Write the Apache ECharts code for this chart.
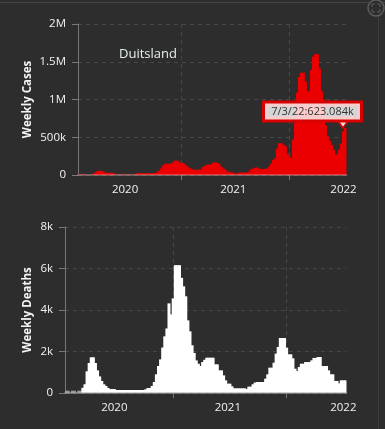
<!DOCTYPE html>
<html>
<head>
<meta charset="utf-8">
<style>html,body{margin:0;padding:0;background:#2d2d2d}#c{width:385px;height:429px}</style>
<script src="https://cdn.jsdelivr.net/npm/echarts@6/dist/echarts.min.js"></script>
</head>
<body>
<div id="c"></div>
<script>
const weeklyCases = [
14000,14000,14000,14000,null,null,14000,14000,30000,50000,
55000,55000,45000,35000,28000,28000,28000,28000,14000,14000,
14000,14000,14000,14000,14000,14000,14000,8000,8000,22000,
22000,22000,22000,22000,22000,22000,22000,22000,28000,35000,
55000,85000,125000,145000,150000,150000,150000,165000,190000,190000,
170000,160000,160000,135000,115000,95000,80000,70000,70000,70000,
70000,70000,106000,120000,137000,137000,137000,163000,163000,163000,
140000,106000,85000,70000,44000,44000,31000,31000,18000,18000,
31000,31000,31000,31000,31000,44000,75000,85000,97000,97000,
84000,75000,75000,84000,84000,110000,150000,200000,220000,350000,
420000,420000,400000,380000,283000,240000,216000,470000,690000,1090000,
1300000,1354000,1354000,1240000,1110000,1110000,1390000,1566000,1600000,1600000,
1410000,1110000,1000000,660000,511000,455000,400000,335000,270000,270000,
335000,415000,580000,623084
];
const weeklyDeaths = [
110,110,null,110,110,null,110,110,250,420,
1045,1445,1720,1720,1445,1090,800,580,420,340,
240,190,190,190,145,145,145,145,145,145,
145,145,145,145,145,145,145,145,180,240,
240,340,530,900,1300,1620,2190,2730,3110,4320,
3790,4560,6160,6160,6160,5550,5140,4660,3500,2970,
2300,1930,1570,1410,1300,1490,1600,1700,1700,1700,
1700,1380,1380,1090,1090,850,610,450,450,320,
225,225,225,225,225,225,190,305,305,420,
500,530,530,530,530,690,900,1220,1220,1460,
1900,2220,2650,2650,2650,2185,1864,1864,1670,1170,
1060,1250,1410,1410,1490,1490,1490,1575,1690,1690,
1735,1735,1300,1300,1300,1090,900,900,580,580,
465,610,610,610
];
const weekNumbers = weeklyCases.map((_, i) => 'w' + i);
const yearLabelWeeks = [23, 77, 132];
const yearLabels = ['2020', '2021', '2022'];
const yearLineWeeks = [51, 105];
const caseTickValues = [0, 500000, 1000000, 1500000, 2000000];
const caseTickLabels = ['0', '500k', '1M', '1.5M', '2M'];
const deathTickValues = [0, 2000, 4000, 6000, 8000];
const deathTickLabels = ['0', '2k', '4k', '6k', '8k'];
const titleText = 'Duitsland';
const tipText = '7/3/22:623.084k';

const font = '"Open Sans","Noto Sans",sans-serif';
function xAxes(g, lineColor) {
  return [{
    type: 'category', gridIndex: g, data: weekNumbers, boundaryGap: true, position: 'bottom',
    axisLine: { show: false },
    axisTick: { show: true, length: 5, alignWithLabel: true, interval: (i) => yearLineWeeks.includes(i), lineStyle: { color: '#777' } },
    axisLabel: {
      show: true, color: '#f2f2f2', fontFamily: font, fontSize: 11.5, margin: 9,
      interval: (i) => yearLabelWeeks.includes(i),
      formatter: (v) => yearLabels[yearLabelWeeks.indexOf(weekNumbers.indexOf(v))]
    },
    splitLine: { show: true, alignWithLabel: true, interval: (i) => yearLineWeeks.includes(i), lineStyle: { color: '#474747', type: [4, 4], width: 1 } }
  }, {
    type: 'category', gridIndex: g, data: weekNumbers, z: 6, position: 'bottom',
    axisLine: { show: true, onZero: false, lineStyle: { color: lineColor, width: 1.5 } },
    axisTick: { show: false }, axisLabel: { show: false }, splitLine: { show: false }
  }];
}
function yAxis(g, name, maxV, step, vals, labs, gap) {
  return {
    type: 'value', gridIndex: g, min: 0, max: maxV, interval: step,
    name: name, nameLocation: 'middle', nameGap: gap, nameMoveOverlap: false,
    nameTextStyle: { color: '#f4f4f4', fontFamily: font, fontSize: 11.5, fontWeight: 'bold' },
    axisLine: { show: true, lineStyle: { color: '#777' } },
    axisTick: { show: true, length: 6, lineStyle: { color: '#777' } },
    axisLabel: { color: '#f2f2f2', fontFamily: font, fontSize: 11.5, margin: 12, formatter: (v) => labs[vals.indexOf(v)] },
    splitLine: { show: true, lineStyle: { color: '#474747', type: [4, 4], width: 1 } }
  };
}
const lastName = weekNumbers[weekNumbers.length - 1];
const lastValue = weeklyCases[weeklyCases.length - 1];

const chart = echarts.init(document.getElementById('c'), null, { renderer: 'canvas' });
chart.setOption({
  animation: false,
  backgroundColor: '#2d2d2d',
  title: { text: titleText, left: 114, top: 43, textStyle: { color: '#e6eef0', fontFamily: font, fontSize: 13, fontWeight: 'normal' } },
  grid: [
    { left: 78, top: 24, width: 268.5, height: 151 },
    { left: 65, top: 227, width: 281.5, height: 166 }
  ],
  xAxis: [...xAxes(0, 'rgba(255,200,200,0.4)'), ...xAxes(1, 'rgba(170,170,170,0.75)')],
  yAxis: [
    yAxis(0, 'Weekly Cases', 2000000, 500000, caseTickValues, caseTickLabels, 44),
    yAxis(1, 'Weekly Deaths', 8000, 2000, deathTickValues, deathTickLabels, 31)
  ],
  series: [{
    type: 'bar', xAxisIndex: 0, yAxisIndex: 0, data: weeklyCases, barWidth: 3,
    itemStyle: { color: (p) => p.value < 15000 ? '#8a2626' : '#ea0000' },
    markPoint: {
      silent: true, z: 10,
      data: [{
        coord: [lastName, lastValue], symbol: 'triangle', symbolSize: [13, 9], symbolRotate: 180, symbolOffset: [-2.5, -4.5],
        itemStyle: { color: '#e8d8d8', borderColor: '#d80000', borderWidth: 1.5 },
        label: {
          show: true, position: 'inside', offset: [-30.5, -12], formatter: tipText, color: '#333',
          fontFamily: font, fontSize: 11, width: 95, height: 16, lineHeight: 16, align: 'center', verticalAlign: 'middle',
          backgroundColor: 'rgba(255,255,255,0.8)', borderColor: '#d80000', borderWidth: 3
        }
      }]
    }
  }, {
    type: 'bar', xAxisIndex: 2, yAxisIndex: 1, data: weeklyDeaths, barWidth: 3,
    itemStyle: { color: (p) => p.value < 120 ? '#9a9a9a' : '#ffffff' }
  }],
  graphic: [
    { type: 'rect', silent: true, shape: { x: 0, y: 2, width: 385, height: 1 }, style: { fill: '#444' } },
    { type: 'rect', silent: true, shape: { x: 378, y: 14, width: 1, height: 415 }, style: { fill: '#3d3d3d' } },
    { type: 'circle', silent: true, shape: { cx: 376, cy: 8, r: 8 }, style: { fill: '#2d2d2d', stroke: '#5c5c5c', lineWidth: 1.5 } },
    { type: 'polyline', silent: true, shape: { points: [[372, 7], [372, 4], [375, 4]] }, style: { stroke: '#5c5c5c', fill: null } },
    { type: 'polyline', silent: true, shape: { points: [[377, 4], [380, 4], [380, 7]] }, style: { stroke: '#5c5c5c', fill: null } },
    { type: 'polyline', silent: true, shape: { points: [[372, 9], [372, 12], [375, 12]] }, style: { stroke: '#5c5c5c', fill: null } },
    { type: 'polyline', silent: true, shape: { points: [[377, 12], [380, 12], [380, 9]] }, style: { stroke: '#5c5c5c', fill: null } }
  ]
});
</script>
</body>
</html>
